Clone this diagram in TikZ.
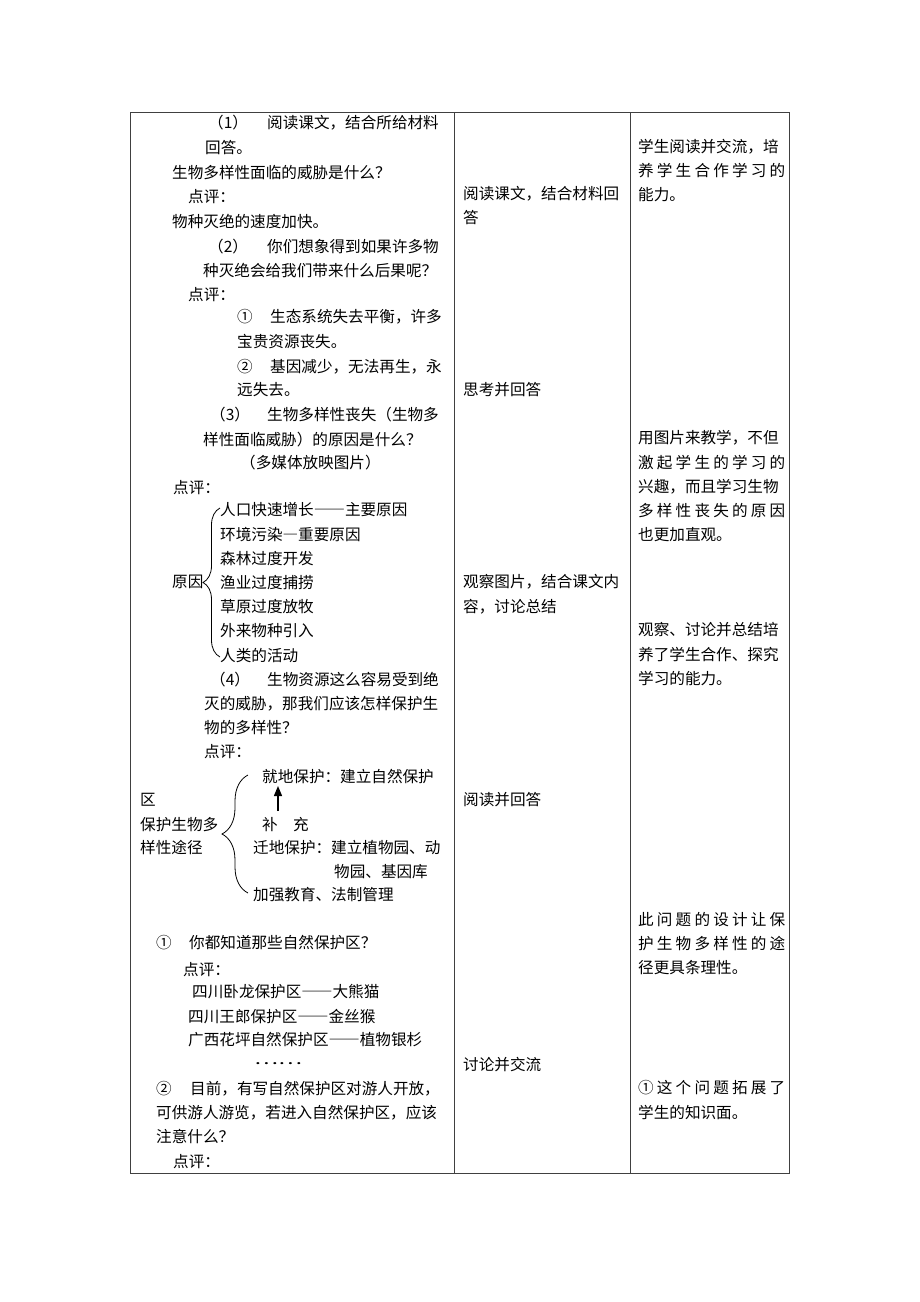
\documentclass[tikz,border=0pt]{standalone}
\usepackage{fontspec}
\newfontfamily\cjk{Noto Sans CJK SC}
\usetikzlibrary{arrows.meta}
\usetikzlibrary{decorations.pathreplacing}
\makeatletter
% spread the characters of one line over a given width
\newcommand\spreadtxt[2]{\makebox[#1][s]{\@tfor\sprch:=#2\do{\sprch\hfill}\unskip}}
\makeatother
% full width dashes
\newcommand\fw[1]{{\addfontfeature{CharacterWidth=Full}#1}}

\begin{document}
\begin{tikzpicture}[
			x=1pt, y=-1pt,
			T/.style = {anchor=west, inner sep=0pt,
				text height=13.7pt, text depth=1.9pt,% one line of text
				font={\cjk\fontsize{15.6pt}{18pt}\selectfont}},
			R/.style = {draw=black!75, line width=0.9pt},
			B/.style = {decorate,
				decoration={brace, amplitude=#1},
				line width=0.8pt},
			B/.default=17pt,
			A/.style = {-{Triangle[length=10pt,width=8pt]}, line width=1.4pt},
			]
			\useasboundingbox (0,0) rectangle (920,1302);
			% table
			\draw[R] (130,112) rectangle (789,1173);
			\draw[R] (454,112) -- (454,1173);
			\draw[R] (630,112) -- (630,1173);
			% first column
			\node[T] (q1n) at (208,123) {（1）};
			\node[T] (q1t) at (267,123) {阅读课文，结合所给材料};
			\node[T] (q1u) at (205,148) {回答。};
			\node[T] (q1v) at (172,173) {生物多样性面临的威胁是什么？};
			\node[T] (c1) at (188,197) {点评：};
			\node[T] (a1) at (172,222) {物种灭绝的速度加快。};
			\node[T] (q2n) at (208,247) {（2）};
			\node[T] (q2t) at (267,247) {你们想象得到如果许多物};
			\node[T] (q2u) at (203,271) {种灭绝会给我们带来什么后果呢？};
			\node[T] (c2) at (188,295) {点评：};
			\node[T] (a2n) at (237,317) {①};
			\node[T] (a2t) at (270,317) {生态系统失去平衡，许多};
			\node[T] (a2u) at (237,342) {宝贵资源丧失。};
			\node[T] (a3n) at (237,367) {②};
			\node[T] (a3t) at (270,367) {基因减少，无法再生，永};
			\node[T] (a3u) at (237,390) {远失去。};
			\node[T] (q3n) at (210,415) {（3）};
			\node[T] (q3t) at (267,415) {生物多样性丧失（生物多};
			\node[T] (q3u) at (203,440) {样性面临威胁）的原因是什么？};
			\node[T] (q3v) at (240,463) {（多媒体放映图片）};
			\node[T] (c3) at (173,488) {点评：};
			\node[T] (yy) at (172,582) {原因};
			\foreach \r [count=\i from 0] in {人口快速增长\fw{——}主要原因,环境污染\fw{—}重要原因,森林过度开发,渔业过度捕捞,草原过度放牧,外来物种引入,人类的活动}
			\node[T] (r\i) at (220,510+24.2*\i) {\r};
			\coordinate (yytop) at (220,508);
			\coordinate (yybot) at (220,657);
			\draw[B] (yybot) -- (yytop);
			\node[T] (q4n) at (210,680) {（4）};
			\node[T] (q4t) at (267,680) {生物资源这么容易受到绝};
			\node[T] (q4u) at (204,704) {灭的威胁，那我们应该怎样保护生};
			\node[T] (q4v) at (204,728) {物的多样性？};
			\node[T] (c4) at (204,752) {点评：};
			\node[T] (jd) at (262,777) {就地保护：建立自然保护};
			\node[T] (jdq) at (140,800) {区};
			\node[T] (tj1) at (140,825) {保护生物多};
			\node[T] (tj2) at (140,848) {样性途径};
			\node[T] (bu) at (262,825) {补};
			\node[T] (chong) at (293,825) {充};
			\node[T] (qd) at (253,848) {迁地保护：建立植物园、动};
			\node[T] (qdu) at (334,872) {物园、基因库};
			\node[T] (jq) at (253,895) {加强教育、法制管理};
			\coordinate (tjtop) at (248,775);
			\coordinate (tjbot) at (248,893);
			\draw[B=26pt] (tjbot) -- (tjtop);
			\coordinate (arrlo) at (278,811);
			\coordinate (arrhi) at (278,786);
			\draw[A] (arrlo) -- (arrhi);
			\node[T] (e1n) at (156,943) {①};
			\node[T] (e1t) at (189,943) {你都知道那些自然保护区？};
			\node[T] (c5) at (183,970) {点评：};
			\node[T] (z1) at (192,992) {四川卧龙保护区\fw{——}大熊猫};
			\node[T] (z2) at (188,1017) {四川王郎保护区\fw{——}金丝猴};
			\node[T] (z3) at (188,1040) {广西花坪自然保护区\fw{——}植物银杉};
			\node[T] (dots) at (254,1064) {\raisebox{5pt}{\scalebox{1.45}[1]{……}}};
			\node[T] (e2n) at (156,1089) {②};
			\node[T] (e2t) at (190,1089) {目前，有写自然保护区对游人开放，};
			\node[T] (e2u) at (156,1113) {可供游人游览，若进入自然保护区，应该};
			\node[T] (e2v) at (156,1137) {注意什么？};
			\node[T] (c6) at (173,1162) {点评：};
			% second column
			\node[T] (s1) at (463,194) {阅读课文，结合材料回};
			\node[T] (s1b) at (463,218) {答};
			\node[T] (s2) at (463,390) {思考并回答};
			\node[T] (s3) at (463,582) {观察图片，结合课文内};
			\node[T] (s3b) at (463,607) {容，讨论总结};
			\node[T] (s4) at (463,800) {阅读并回答};
			\node[T] (s5) at (463,1065) {讨论并交流};
			% third column
			\node[T] (g1) at (638,147) {学生阅读并交流，培};
			\node[T] (g1b) at (638,171) {\spreadtxt{147pt}{养学生合作学习的}};
			\node[T] (g1c) at (638,195) {能力。};
			\node[T] (g2) at (638,438) {用图片来教学，不但};
			\node[T] (g2b) at (638,463) {\spreadtxt{147pt}{激起学生的学习的}};
			\node[T] (g2c) at (638,487) {兴趣，而且学习生物};
			\node[T] (g2d) at (638,511) {\spreadtxt{147pt}{多样性丧失的原因}};
			\node[T] (g2e) at (638,535) {也更加直观。};
			\node[T] (g3) at (638,630) {观察、讨论并总结培};
			\node[T] (g3b) at (638,655) {养了学生合作、探究};
			\node[T] (g3c) at (638,679) {学习的能力。};
			\node[T] (g4) at (638,920) {\spreadtxt{147pt}{此问题的设计让保}};
			\node[T] (g4b) at (638,944) {\spreadtxt{147pt}{护生物多样性的途}};
			\node[T] (g4c) at (638,968) {径更具条理性。};
			\node[T] (g5) at (638,1088) {\spreadtxt{147pt}{①这个问题拓展了}};
			\node[T] (g5b) at (638,1113) {学生的知识面。};
		\end{tikzpicture}
\end{document}
